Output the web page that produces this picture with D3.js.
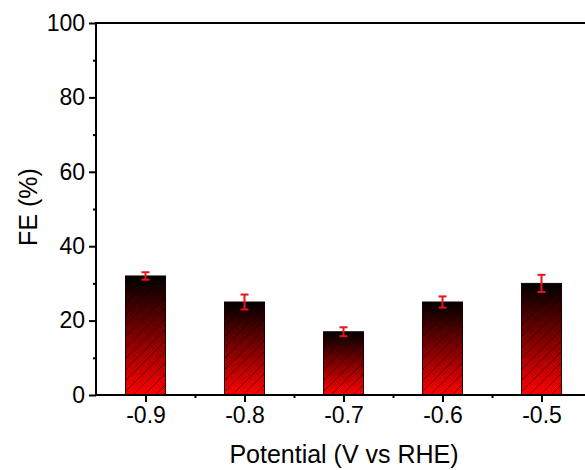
<!DOCTYPE html>
<html>
<head>
<meta charset="utf-8">
<script src="https://cdn.jsdelivr.net/npm/d3@7"></script>
<style>
  html, body { margin: 0; padding: 0; background: #fff; }
  svg { display: block; font-family: "Liberation Sans", Arial, sans-serif; }
</style>
</head>
<body>
<svg id="chart" width="585" height="470"></svg>
<script>
// Faradaic efficiency at each applied potential
const potentials = [-0.9, -0.8, -0.7, -0.6, -0.5];
const feValues = [32, 25, 17, 25, 30];
const feErrors = [1, 2, 1.2, 1.5, 2.3];
const yTicks = [0, 20, 40, 60, 80, 100];
const xTicks = [-0.9, -0.8, -0.7, -0.6, -0.5];

const svg = d3.select("#chart");
const margin = { left: 96, top: 23, bottom: 395 };

const x = d3.scaleLinear().domain([-0.95, -0.45]).range([margin.left, 591]);
const y = d3.scaleLinear().domain([0, 100]).range([margin.bottom, margin.top]);
const barW = 40;

const defs = svg.append("defs");
const grad = defs.append("linearGradient")
  .attr("id", "barGrad").attr("x1", 0).attr("y1", 0).attr("x2", 0).attr("y2", 1);
grad.append("stop").attr("offset", "0%").attr("stop-color", "#000000");
grad.append("stop").attr("offset", "100%").attr("stop-color", "#ff0000");

const hatch = defs.append("pattern")
  .attr("id", "hatch").attr("patternUnits", "userSpaceOnUse")
  .attr("width", 11).attr("height", 11);
hatch.append("path")
  .attr("d", "M-1,12 L12,-1 M-3,3 L3,-3 M8,14 L14,8")
  .attr("stroke", "#000").attr("stroke-width", 0.7).attr("stroke-opacity", 0.75);

// Bars
const bars = svg.append("g");
bars.selectAll("rect.fill").data(potentials).join("rect")
  .attr("class", "fill")
  .attr("x", (d) => x(d) - barW / 2)
  .attr("y", (d, i) => y(feValues[i]))
  .attr("width", barW)
  .attr("height", (d, i) => y(0) - y(feValues[i]))
  .attr("fill", "url(#barGrad)");
bars.selectAll("rect.hatch").data(potentials).join("rect")
  .attr("class", "hatch")
  .attr("x", (d) => x(d) - barW / 2)
  .attr("y", (d, i) => y(feValues[i]))
  .attr("width", barW)
  .attr("height", (d, i) => y(0) - y(feValues[i]))
  .attr("fill", "url(#hatch)")
  .attr("stroke", "#1a0000").attr("stroke-width", 1);

// Error bars
const err = svg.append("g").attr("stroke", "#e8141c").attr("stroke-width", 2);
potentials.forEach((p, i) => {
  const cx = x(p), lo = y(feValues[i] - feErrors[i]), hi = y(feValues[i] + feErrors[i]);
  err.append("line").attr("x1", cx).attr("x2", cx).attr("y1", lo).attr("y2", hi);
  err.append("line").attr("x1", cx - 4).attr("x2", cx + 4).attr("y1", lo).attr("y2", lo);
  err.append("line").attr("x1", cx - 4).attr("x2", cx + 4).attr("y1", hi).attr("y2", hi);
});

// Axes
const yAxis = svg.append("g").attr("transform", `translate(${margin.left},0)`)
  .call(d3.axisLeft(y).tickValues(yTicks).tickSize(7).tickPadding(4));
const yMinor = svg.append("g").attr("transform", `translate(${margin.left},0)`)
  .call(d3.axisLeft(y).tickValues([10, 30, 50, 70, 90]).tickSize(3).tickFormat(""));
const xAxis = svg.append("g").attr("transform", `translate(0,${margin.bottom})`)
  .call(d3.axisBottom(x).tickValues(xTicks).tickSize(7).tickPadding(5).tickFormat(d3.format(".1f")));
const xMinor = svg.append("g").attr("transform", `translate(0,${margin.bottom})`)
  .call(d3.axisBottom(x).tickValues([-0.85, -0.75, -0.65, -0.55]).tickSize(3).tickFormat(""));

[yAxis, yMinor, xAxis, xMinor].forEach((g) => {
  g.select(".domain").remove();
  g.selectAll("line").attr("stroke", "#000").attr("stroke-width", 2);
  g.selectAll("text").attr("font-size", 23).attr("fill", "#000")
    .attr("font-family", "'Liberation Sans', Arial, sans-serif");
});
xAxis.selectAll("text").text((d) => d3.format(".1f")(d).replace("−", "-"));

// Frame lines
svg.append("line").attr("x1", margin.left).attr("x2", margin.left)
  .attr("y1", margin.top - 1).attr("y2", margin.bottom + 1)
  .attr("stroke", "#000").attr("stroke-width", 2);
svg.append("line").attr("x1", margin.left - 1).attr("x2", 585)
  .attr("y1", margin.bottom).attr("y2", margin.bottom)
  .attr("stroke", "#000").attr("stroke-width", 2);
svg.append("line").attr("x1", margin.left - 1).attr("x2", 585)
  .attr("y1", margin.top).attr("y2", margin.top)
  .attr("stroke", "#000").attr("stroke-width", 2);

// Titles
svg.append("text").attr("x", 344).attr("y", 463)
  .attr("text-anchor", "middle").attr("font-size", 25).text("Potential (V vs RHE)");
svg.append("text").attr("transform", "translate(37,207) rotate(-90)")
  .attr("text-anchor", "middle").attr("font-size", 25).text("FE (%)");
</script>
</body>
</html>
